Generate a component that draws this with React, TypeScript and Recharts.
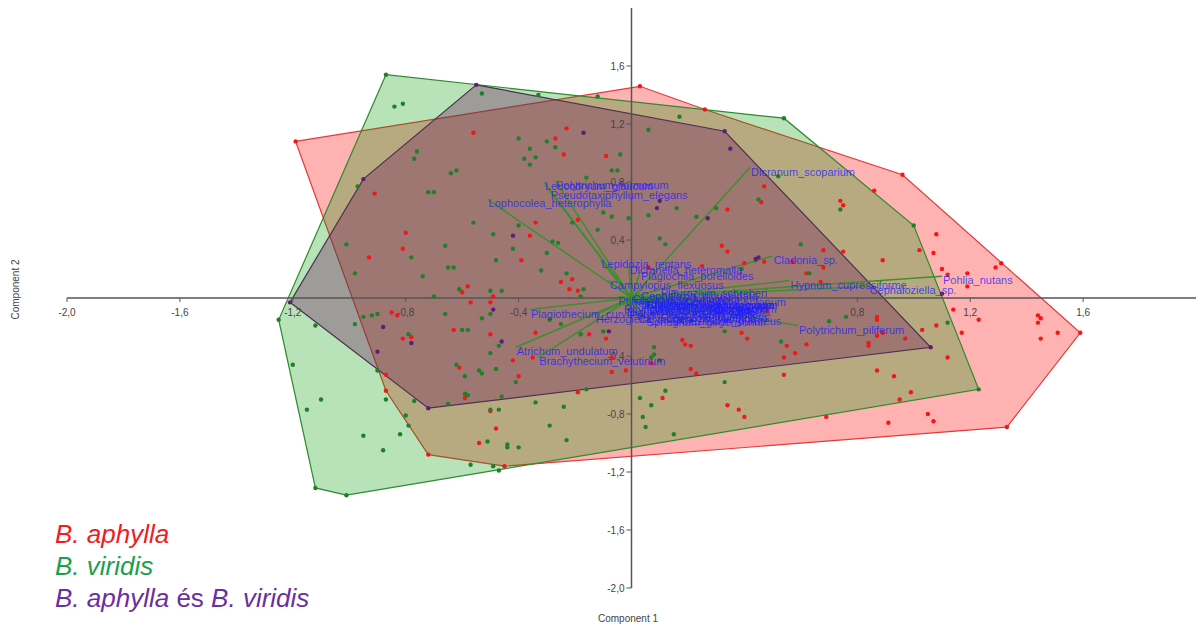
import { Scatter, ScatterChart, XAxis, YAxis } from "recharts";

// hull vertices (component 1, component 2), in drawing order
const aphyllaHull: [number, number][] = [
  [-1.19, 1.08], [0.03, 1.46], [0.26, 1.3], [0.96, 0.85], [1.59, -0.24],
  [1.33, -0.89], [-0.45, -1.16], [-0.72, -1.08], [-0.87, -0.64],
];
const viridisHull: [number, number][] = [
  [-0.87, 1.54], [0.54, 1.24], [1.0, 0.5], [1.23, -0.63], [-1.01, -1.36],
  [-1.12, -1.31], [-1.25, -0.15],
];
const bothHull: [number, number][] = [
  [-0.55, 1.47], [0.33, 1.15], [1.06, -0.34], [-0.72, -0.76], [-1.21, -0.03], [-0.95, 0.82],
];

const aphyllaPoints: [number, number][] = [
  [-1.19, 1.08], [0.03, 1.46], [0.26, 1.3], [0.96, 0.85], [1.59, -0.24], [1.33, -0.89],
  [-0.45, -1.16], [-0.72, -1.08], [-0.87, -0.64],
  [-0.56, 1.14], [-0.91, 0.72], [-0.27, 1.1], [-0.23, 1.17], [-0.24, 0.99], [-0.09, 0.98],
  [-0.8, 0.45], [-0.81, 0.34], [-0.93, 0.28], [-0.36, 0.43], [-0.34, 0.52], [-0.39, 0.26],
  [-0.25, 0.11], [-0.21, 0.13], [-0.22, 0.06], [-0.19, 0.05], [-0.19, 0.54], [-0.58, 0.08],
  [-0.6, 0.04], [-0.49, 0.01],
  [0.34, 0.61], [0.47, 0.77], [0.46, 0.66], [0.32, 0.36], [0.34, 0.32], [0.25, 0.22],
  [0.4, 0.24], [0.47, 0.25], [0.06, 0.21],
  [0.86, 0.74], [0.74, 0.67], [0.75, 0.64], [1.08, 0.44], [1.02, 0.33], [1.07, 0.31],
  [0.89, 0.26], [0.75, 0.32], [0.68, 0.33], [0.57, 0.25], [0.62, 0.17], [0.68, 0.21], [0.67, 0.11],
  [1.1, 0.2], [1.12, 0.16], [1.19, 0.17], [1.19, 0.08], [1.29, 0.21], [1.31, 0.24],
  [1.14, -0.08], [1.23, -0.15], [1.17, -0.24], [1.44, -0.12], [1.45, -0.14], [1.44, -0.17],
  [1.51, -0.24], [1.45, -0.28], [1.12, -0.41], [1.08, -0.19], [1.03, -0.22], [0.97, -0.28],
  [0.87, -0.13], [0.87, -0.15], [0.89, -0.24], [0.87, -0.26], [0.84, -0.31], [0.84, -0.33],
  [0.62, -0.32], [0.87, -0.5], [0.93, -0.54], [0.99, -0.65], [0.95, -0.7], [0.69, -0.82],
  [0.91, -0.86], [1.05, -0.8], [1.07, -0.85],
  [0.18, -0.29], [0.19, -0.32], [0.21, -0.33], [0.21, -0.49], [0.23, -0.52], [0.39, -0.24],
  [0.41, -0.28], [0.55, -0.33], [0.54, -0.41], [0.58, -0.38], [0.54, -0.53], [0.34, -0.74],
  [0.38, -0.77], [0.4, -0.82], [0.11, -0.69], [0.48, -0.09], [0.07, -0.45], [0.47, -0.07],
  [-0.57, -0.03], [-0.63, -0.22], [-0.5, -0.25], [-0.81, -0.28], [-0.78, -0.27], [-0.85, -0.1],
  [-0.83, -0.12], [-0.5, -0.03], [-0.61, -0.48], [-0.59, -0.69], [-0.5, -0.78], [-0.48, -0.9],
  [-0.54, -1.0], [-0.42, -0.43], [-0.4, -0.54], [-0.35, -0.41], [-0.34, -0.24], [-0.15, -0.25],
  [-0.09, -0.28], [-0.19, -0.65], [-0.07, -0.51], [-0.02, -0.5], [-0.07, -0.41], [-0.87, -0.53],
];

const viridisPoints: [number, number][] = [
  [-0.87, 1.54], [0.54, 1.24], [1.0, 0.5], [1.23, -0.63], [-1.01, -1.36], [-1.12, -1.31], [-1.25, -0.15],
  [-0.84, 1.32], [-0.81, 1.34], [-0.53, 1.41], [-0.33, 1.4], [-0.12, 1.39], [-0.97, 0.77],
  [-0.76, 1.01], [-0.77, 0.96], [-0.64, 0.86], [-0.62, 0.88], [-0.72, 0.73], [-0.7, 0.73],
  [-0.4, 1.1], [-0.36, 1.03], [-0.38, 0.96], [-0.36, 0.92], [-0.34, 0.97], [-0.3, 1.08],
  [-0.27, 1.04], [-0.04, 0.99], [-0.07, 0.88], [-0.05, 0.88], [-0.16, 0.83], [-0.56, 0.52],
  [-0.78, 0.28], [-1.01, 0.37], [-0.98, 0.17], [-0.66, 0.36], [-0.65, 0.21], [-0.63, 0.21],
  [-0.74, 0.15], [-0.48, 0.26], [-0.49, 0.44], [-0.4, 0.5], [-0.42, 0.34], [-0.3, 0.31],
  [-0.28, 0.39], [-0.26, 0.38], [-0.32, 0.19], [-0.23, 0.17], [-0.17, 0.06], [-0.18, 0.01],
  [-0.21, 0.52], [-0.12, 0.47], [-0.1, 0.59], [-0.07, 0.56], [-0.01, 0.55], [-0.61, 0.06],
  [-0.5, 0.05], [-0.46, 0.05], [-0.7, 0.01],
  [0.06, 1.16], [0.17, 1.25], [0.06, 0.57], [0.16, 0.62], [0.23, 0.56], [0.3, 0.62],
  [0.1, 0.41], [0.12, 0.37], [0.45, 0.68], [0.52, 0.84], [0.74, 0.61], [0.6, 0.37],
  [0.39, 0.2], [0.63, 0.17], [0.44, 0.26],
  [1.12, -0.17], [0.76, -0.13], [0.7, -0.16], [0.33, -0.23], [0.53, -0.3], [0.33, -0.58],
  [0.08, -0.34], [0.07, -0.41], [0.08, -0.39], [0.1, -0.43], [0.03, -0.69], [0.07, -0.74],
  [0.12, -0.64], [0.04, -0.82], [0.05, -0.89], [0.15, -0.94],
  [-0.66, -0.11], [-0.6, -0.22], [-0.58, -0.22], [-0.47, -0.33], [-0.5, -0.38], [-0.53, -0.14],
  [-0.5, -0.11], [-0.79, -0.25], [-0.62, -0.46], [-0.54, -0.5], [-0.53, -0.52], [-0.48, -0.49],
  [-0.59, -0.54], [-0.41, -0.58], [-0.59, -0.66], [-0.58, -0.67], [-0.46, -0.68], [-0.47, -0.77],
  [-0.5, -0.77], [-0.51, -0.99], [-0.44, -1.01], [-0.44, -1.03], [-0.4, -1.03], [-0.57, -1.15],
  [-0.49, -1.16], [-0.47, -1.19], [-0.65, -0.73], [-0.8, -0.81], [-0.79, -0.88], [-0.87, -0.7],
  [-0.77, -0.71], [-0.9, -0.5], [-1.12, -0.19], [-1.2, -0.46], [-1.15, -0.77], [-1.1, -0.7],
  [-0.95, -0.95], [-0.88, -1.05], [-0.82, -0.94], [-0.98, -0.18], [-0.95, -0.13], [-0.92, -0.12],
  [-0.9, -0.11], [-0.34, -0.72], [-0.24, -0.75], [-0.16, -0.63], [-0.29, -0.88], [-0.23, -0.98],
  [-0.29, -0.15], [-0.25, -0.18], [-0.18, -0.25], [-0.1, -0.23],
];

const bothPoints: [number, number][] = [
  [-0.55, 1.47], [0.33, 1.15], [1.06, -0.34], [-0.72, -0.76], [-1.21, -0.03], [-0.95, 0.82],
  [-0.17, 1.14], [-0.42, 0.43], [0.35, 1.03], [0.1, 0.67], [0.09, 0.62], [0.27, 0.55],
  [0.44, 0.27], [0.45, 0.28], [1.1, 0.03], [-0.49, -0.08], [-0.46, -0.3], [-0.78, -0.31],
  [-0.88, -0.2], [-0.9, -0.37], [-0.08, -0.23],
];

// species loadings: name, component 1, component 2
const species: [string, number, number][] = [
  ["Dicranum_scoparium", 0.42, 0.9],
  ["Lophocolea_heterophylla", -0.51, 0.68],
  ["Leucobryum_glaucum", -0.31, 0.8],
  ["Polytrichum_formosum", -0.27, 0.81],
  ["Pseudotaxiphyllum_elegans", -0.29, 0.74],
  ["Cladonia_sp.", 0.5, 0.29],
  ["Hypnum_cupressiforme", 0.56, 0.12],
  ["Pohlia_nutans", 1.1, 0.15],
  ["Cephaloziella_sp.", 0.84, 0.08],
  ["Polytrichum_piliferum", 0.59, -0.19],
  ["Ceratodon_purureus", 0.17, -0.13],
  ["Atrichum_undulatum", -0.41, -0.34],
  ["Brachythecium_velutinum", -0.33, -0.41],
  ["Plagiothecium_curvifolium", -0.36, -0.08],
  ["Herzogiella_seligeri", -0.13, -0.12],
  ["Lepidozia_reptans", -0.11, 0.26],
  ["Dicranella_heteromalla", -0.01, 0.22],
  ["Plagiochila_porelloides", 0.03, 0.18],
  ["Campylopus_flexuosus", -0.08, 0.12],
  ["Pleurozium_schreberi", 0.1, 0.06],
  ["Ptilidium_pulcherrimum", -0.05, 0.01],
  ["Tetraphis_pellucida", 0.0, -0.01],
  ["Hypnum_jutlandicum", 0.03, -0.04],
  ["Dicranum_polysetum", 0.06, -0.06],
  ["Polytrichum_commune", -0.01, -0.09],
  ["Aulacomnium_androgynum", 0.04, -0.02],
  ["Thuidium_tamariscinum", 0.07, -0.03],
  ["Plagiomnium_affine", 0.1, -0.08],
  ["Rhytidiadelphus_squarrosus", -0.03, -0.05],
  ["Orthodicranum_montanum", 0.08, 0.0],
  ["Calypogeia_muelleriana", 0.02, -0.12],
  ["Brachythecium_rutabulum", 0.05, -0.02],
  ["Mnium_hornum", 0.24, -0.05],
  ["Bryum_capillare", 0.21, -0.09],
  ["Cephalozia_bicuspidata", 0.03, 0.04],
  ["Lophozia_ventricosa", 0.12, -0.11],
  ["Sphagnum_girgensohnii", 0.05, -0.14],
  ["Dicranodontium_denudatum", -0.02, -0.07],
  ["Riccardia_latifrons", 0.16, -0.04],
  ["Cephalozia_lunulifolia", 0.0, 0.02],
  ["Pohlia_cruda", 0.27, -0.02],
];

const xTicks = [-2.0, -1.6, -1.2, -0.8, -0.4, 0.4, 0.8, 1.2, 1.6];
const yTicks = [1.6, 1.2, 0.8, 0.4, -0.4, -0.8, -1.2, -1.6, -2.0];
const xAxisEnds: [number, number][] = [[-2, 0], [2, 0]];
const yAxisEnds: [number, number][] = [[0, 2], [0, -2]];

const FONT = '"Liberation Sans", Arial, sans-serif';

const rows = (pts: [number, number][]) => pts.map(([x, y]) => ({ x, y }));
const fmt = (v: number) => v.toFixed(1).replace(".", ",");

const noShape = () => <g />;
const dot = (color: string) => (p: any) => <circle cx={p.cx} cy={p.cy} r={2.2} fill={color} />;

function SpeciesLabel(p: any) {
  return (
    <text x={p.cx + 1} y={p.cy + 8} fill="#1c1cff" fillOpacity={0.76} fontSize={11} fontFamily={FONT}>
      {p.payload.name}
    </text>
  );
}

function XTick(p: any) {
  return (
    <g>
      <line x1={p.cx} y1={p.cy} x2={p.cx} y2={p.cy + 4} stroke="#555" />
      <text x={p.cx} y={p.cy + 18} textAnchor="middle" fontSize={10} fill="#444" fontFamily={FONT}>
        {fmt(p.payload.x)}
      </text>
    </g>
  );
}

function YTick(p: any) {
  return (
    <g>
      <line x1={p.cx - 5} y1={p.cy} x2={p.cx} y2={p.cy} stroke="#555" />
      <text x={p.cx - 7} y={p.cy + 4} textAnchor="end" fontSize={10} fill="#444" fontFamily={FONT}>
        {fmt(p.payload.y)}
      </text>
    </g>
  );
}

export default function App() {
  const speciesRows = species.map(([name, x, y]) => ({ name, x, y }));
  return (
    <div style={{ position: "absolute", left: 0, top: 0, width: 1196, height: 630, background: "#fff" }}>
      <ScatterChart width={1196} height={630} margin={{ top: 8, right: 0, bottom: 42, left: 67 }}>
        <XAxis type="number" dataKey="x" domain={[-2, 2]} hide />
        <YAxis type="number" dataKey="y" domain={[-2, 2]} hide />
        <Scatter
          data={rows(aphyllaHull)}
          line={{ stroke: "#e23a3a", strokeWidth: 1.2, fill: "rgba(255,0,0,0.3)" }}
          lineJointType="linearClosed"
          shape={noShape}
          isAnimationActive={false}
        />
        <Scatter
          data={rows(viridisHull)}
          line={{ stroke: "#2f8a2f", strokeWidth: 1.2, fill: "rgba(0,150,0,0.28)" }}
          lineJointType="linearClosed"
          shape={noShape}
          isAnimationActive={false}
        />
        <Scatter
          data={rows(bothHull)}
          line={{ stroke: "#4f3050", strokeWidth: 1.2, fill: "rgba(110,27,91,0.35)" }}
          lineJointType="linearClosed"
          shape={noShape}
          isAnimationActive={false}
        />
        <Scatter data={rows(xAxisEnds)} line={{ stroke: "#555", strokeWidth: 1.5 }} shape={noShape} isAnimationActive={false} />
        <Scatter data={rows(yAxisEnds)} line={{ stroke: "#555", strokeWidth: 1.5 }} shape={noShape} isAnimationActive={false} />
        <Scatter data={xTicks.map((x) => ({ x, y: 0 }))} shape={XTick} isAnimationActive={false} />
        <Scatter data={yTicks.map((y) => ({ x: 0, y }))} shape={YTick} isAnimationActive={false} />
        {species.map(([name, x, y]) => (
          <Scatter
            key={name}
            data={rows([[0, 0], [x, y]])}
            line={{ stroke: "#3c8f30", strokeWidth: 1.5 }}
            shape={noShape}
            isAnimationActive={false}
          />
        ))}
        <Scatter data={rows(aphyllaPoints)} shape={dot("#f01818")} isAnimationActive={false} />
        <Scatter data={rows(viridisPoints)} shape={dot("#1f7f2a")} isAnimationActive={false} />
        <Scatter data={rows(bothPoints)} shape={dot("#5c1f78")} isAnimationActive={false} />
        <Scatter data={speciesRows} shape={SpeciesLabel} isAnimationActive={false} />
      </ScatterChart>

      <div style={{ position: "absolute", left: 598, top: 613, fontFamily: FONT, fontSize: 10, color: "#444" }}>
        Component 1
      </div>
      <div
        style={{
          position: "absolute",
          left: -35,
          top: 284,
          width: 100,
          textAlign: "center",
          whiteSpace: "nowrap",
          transform: "rotate(-90deg)",
          fontFamily: FONT,
          fontSize: 10,
          color: "#444",
        }}
      >
        Component 2
      </div>

      <div style={{ position: "absolute", left: 55, top: 518, fontFamily: FONT, fontSize: 26, lineHeight: "32px" }}>
        <div style={{ color: "#ee1c25", fontStyle: "italic" }}>B. aphylla</div>
        <div style={{ color: "#1a9f4c", fontStyle: "italic" }}>B. viridis</div>
        <div style={{ color: "#6a2fa0" }}>
          <i>B. aphylla</i> és <i>B. viridis</i>
        </div>
      </div>
    </div>
  );
}
